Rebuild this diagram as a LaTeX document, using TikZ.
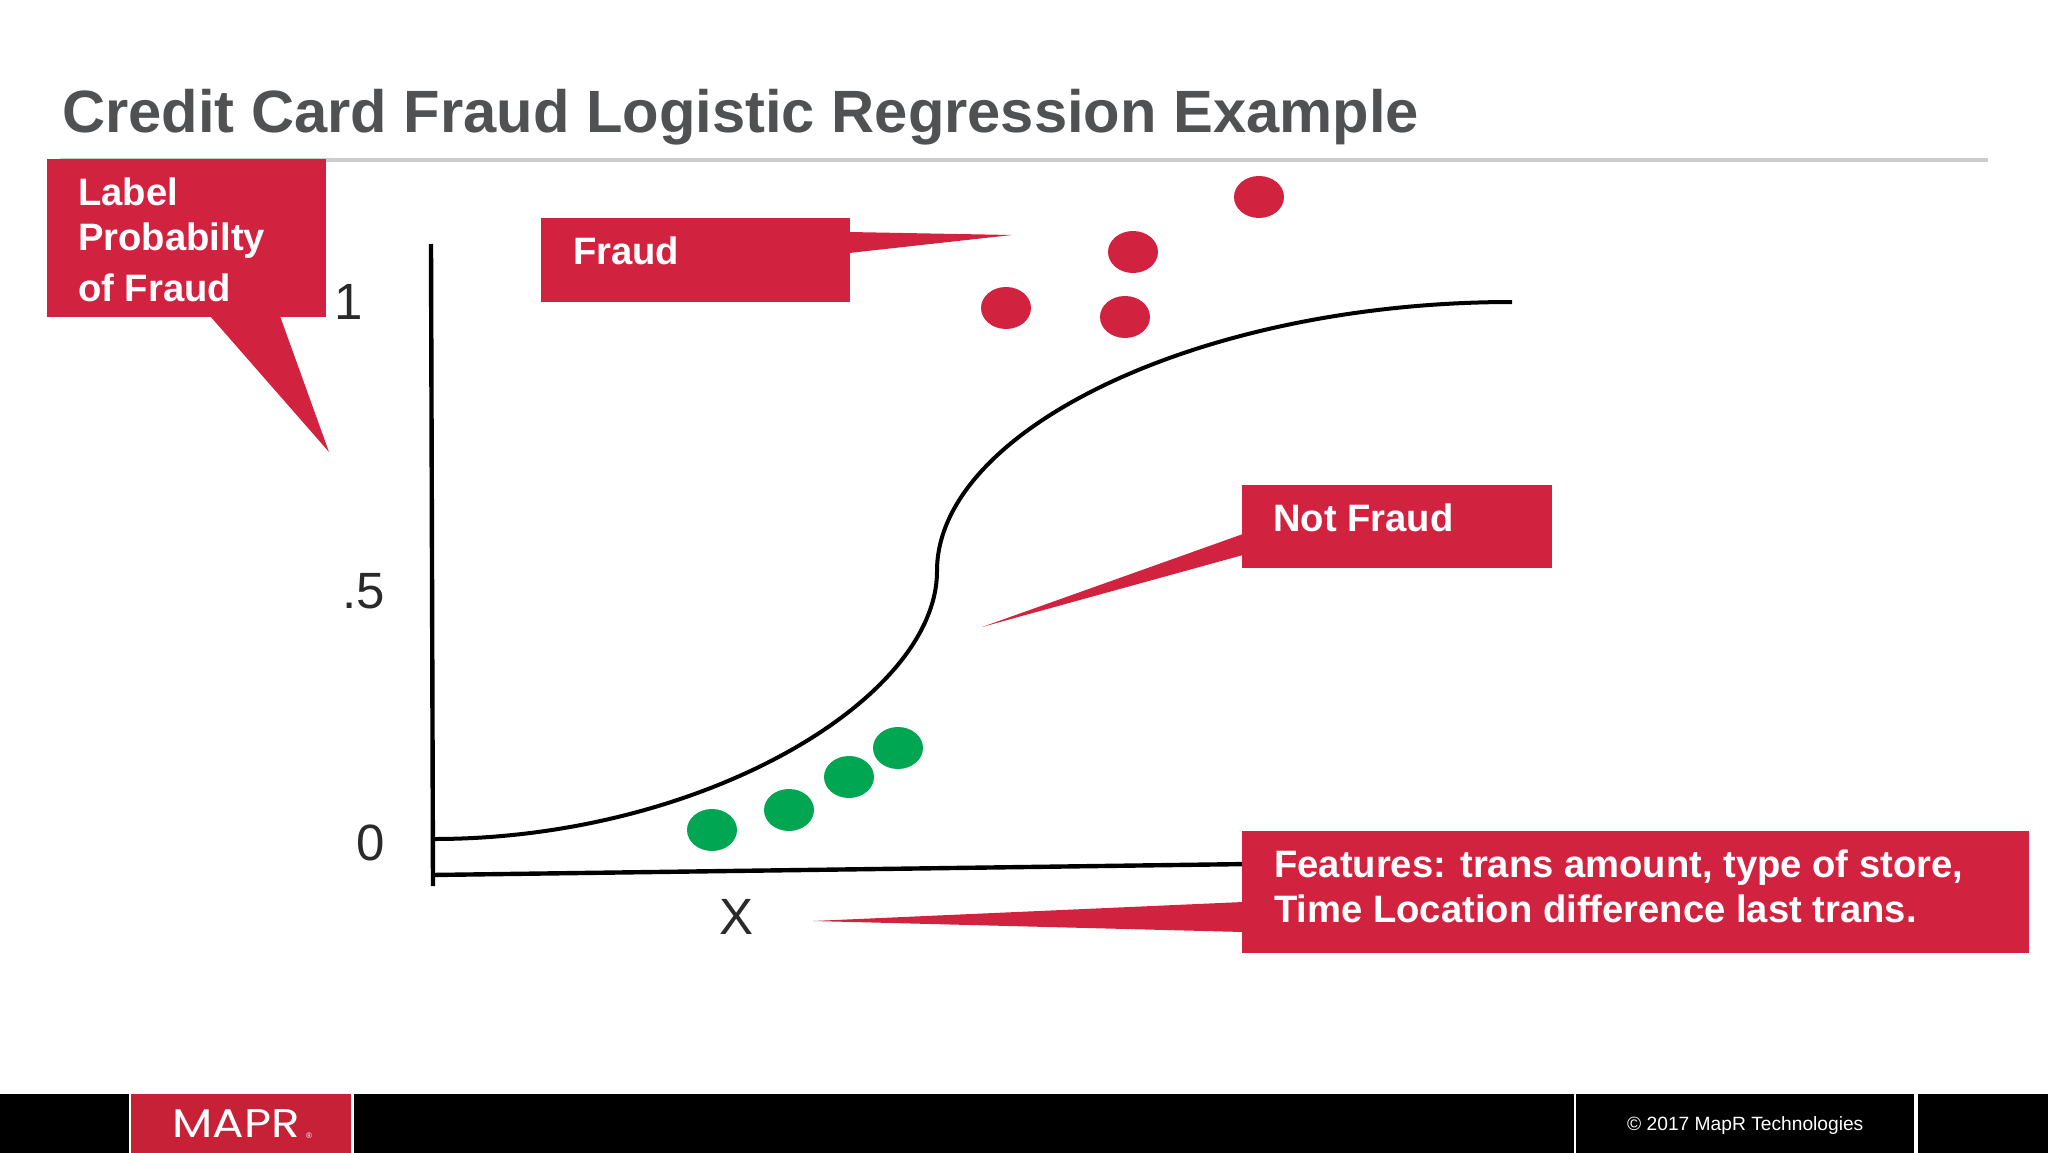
\documentclass[tikz,border=0pt]{standalone}
\usepackage{graphicx}
\usepackage{fontspec}
\setmainfont{Liberation Sans}
\newfontfamily\logofont{Poppins}
\usetikzlibrary{shapes.geometric}
\definecolor{mred}{HTML}{D1233F}
\definecolor{fred}{HTML}{C62136}
\definecolor{mgreen}{HTML}{00A651}
\definecolor{tgray}{HTML}{505153}
\definecolor{rulegray}{HTML}{CCCCCE}
\definecolor{axtext}{HTML}{2A2A2A}
\tikzset{
  x=1pt,y=-1pt,
  boxr/.style={fill=mred,draw=none,inner sep=0pt,anchor=north west},
  callout/.style={fill=mred,draw=none},
  calltext/.style={text=white,font=\bfseries\fontsize{38.2}{45}\selectfont,inner sep=0pt,anchor=base west,align=left},
  axlabel/.style={text=axtext,font=\fontsize{51}{51}\selectfont,inner sep=0pt,anchor=base west},
  reddot/.style={ellipse,fill=mred,draw=none,minimum width=50pt,minimum height=42pt,inner sep=0pt},
  greendot/.style={ellipse,fill=mgreen,draw=none,minimum width=50pt,minimum height=42pt,inner sep=0pt},
  axisline/.style={draw=black,line width=4.4pt},
  curveline/.style={draw=black,line width=4pt},
  footbar/.style={fill=black,draw=none,inner sep=0pt,anchor=north west,minimum height=59pt},
}
\begin{document}
\begin{tikzpicture}
\useasboundingbox (0,0) rectangle (2048,1153);
\fill[white] (0,0) rectangle (2048,1153);
% title
\node[text=tgray,font=\bfseries\fontsize{59.7}{60}\selectfont,inner sep=0pt,anchor=base west] (title) at (62,132) {Credit Card Fraud Logistic Regression Example};
\coordinate (ruleL) at (60,160);
\coordinate (ruleR) at (1988,160);
\draw[rulegray,line width=4pt] (ruleL) -- (ruleR);
% axes
\coordinate (yTop) at (431,244);
\coordinate (yBot) at (433,886);
\coordinate (xL) at (432,875);
\coordinate (xR) at (1250,864);
\draw[axisline] (yTop) -- (yBot);
\draw[axisline] (xL) -- (xR);
% curve
\coordinate (c0) at (434,839);
\coordinate (c1) at (937,571);
\coordinate (c2) at (1512,302);
\draw[curveline] (c0) .. controls (700,839) and (937,700) .. (c1) .. controls (937,430) and (1200,302) .. (c2);
% axis labels
\node[axlabel] (one) at (334,319) {1};
\node[axlabel] (half) at (342,608) {.5};
\node[axlabel] (zero) at (356,860) {0};
\node[axlabel] (xlab) at (719,934) {X};
% dots
\node[reddot] (r1) at (1259,197) {};
\node[reddot] (r2) at (1133,252) {};
\node[reddot] (r3) at (1006,308) {};
\node[reddot] (r4) at (1125,317) {};
\node[greendot] (g1) at (898,748) {};
\node[greendot] (g2) at (849,777) {};
\node[greendot] (g3) at (789,810) {};
\node[greendot] (g4) at (712,830) {};
% callouts
\node[boxr,minimum width=279pt,minimum height=158pt] (labelbox) at (47,159) {};
\coordinate (labeltip) at (329,452);
\fill[callout] (210,316) -- (labeltip) -- (280,316) -- cycle;
\node[calltext] (labeltext) at (78,205) {Label};
\node[calltext] (labeltext2) at (78,250) {Probabilty};
\node[calltext] (labeltext3) at (78,301) {of Fraud};
\node[boxr,minimum width=309pt,minimum height=84pt] (fraudbox) at (541,218) {};
\coordinate (fraudtip) at (1012,235);
\fill[callout] (849,232) -- (fraudtip) -- (849,253) -- cycle;
\node[calltext] (fraudtext) at (573,264) {Fraud};
\node[boxr,minimum width=310pt,minimum height=83pt] (notbox) at (1242,485) {};
\coordinate (nottip) at (982,627);
\fill[callout] (1243,534) -- (nottip) -- (1243,555) -- cycle;
\node[calltext] (nottext) at (1273,531.5) {Not Fraud};
\node[boxr,minimum width=787pt,minimum height=122pt] (featbox) at (1242,831) {};
\coordinate (feattip) at (813,921);
\fill[callout] (1243,902) -- (feattip) -- (1243,932) -- cycle;
\node[calltext,anchor=north west] (feattext) at (1274,850) {Features: trans amount, type of store,\\Time Location difference last trans.};
% footer
\node[footbar,minimum width=129pt] (f1) at (0,1094) {};
\node[fill=fred,inner sep=0pt,anchor=north west,minimum width=220pt,minimum height=59pt] (f2) at (131,1094) {};
\node[footbar,minimum width=1220pt] (f3) at (354,1094) {};
\node[footbar,minimum width=338pt] (f4) at (1576,1094) {};
\node[footbar,minimum width=130pt] (f5) at (1918,1094) {};
\node[text=white,font=\logofont\fontsize{40}{40}\selectfont,inner sep=0pt,anchor=base west] (logo) at (172,1137) {\scalebox{1.17}[1]{MAPR}};
\node[text=white,font=\fontsize{8}{8}\selectfont,inner sep=0pt,anchor=base west] (logoreg) at (306,1138) {®};
\node[text=white,font=\fontsize{19.2}{20}\selectfont,inner sep=0pt,anchor=base west] (copy) at (1627,1130) {© 2017 MapR Technologies};
\end{tikzpicture}
\end{document}
